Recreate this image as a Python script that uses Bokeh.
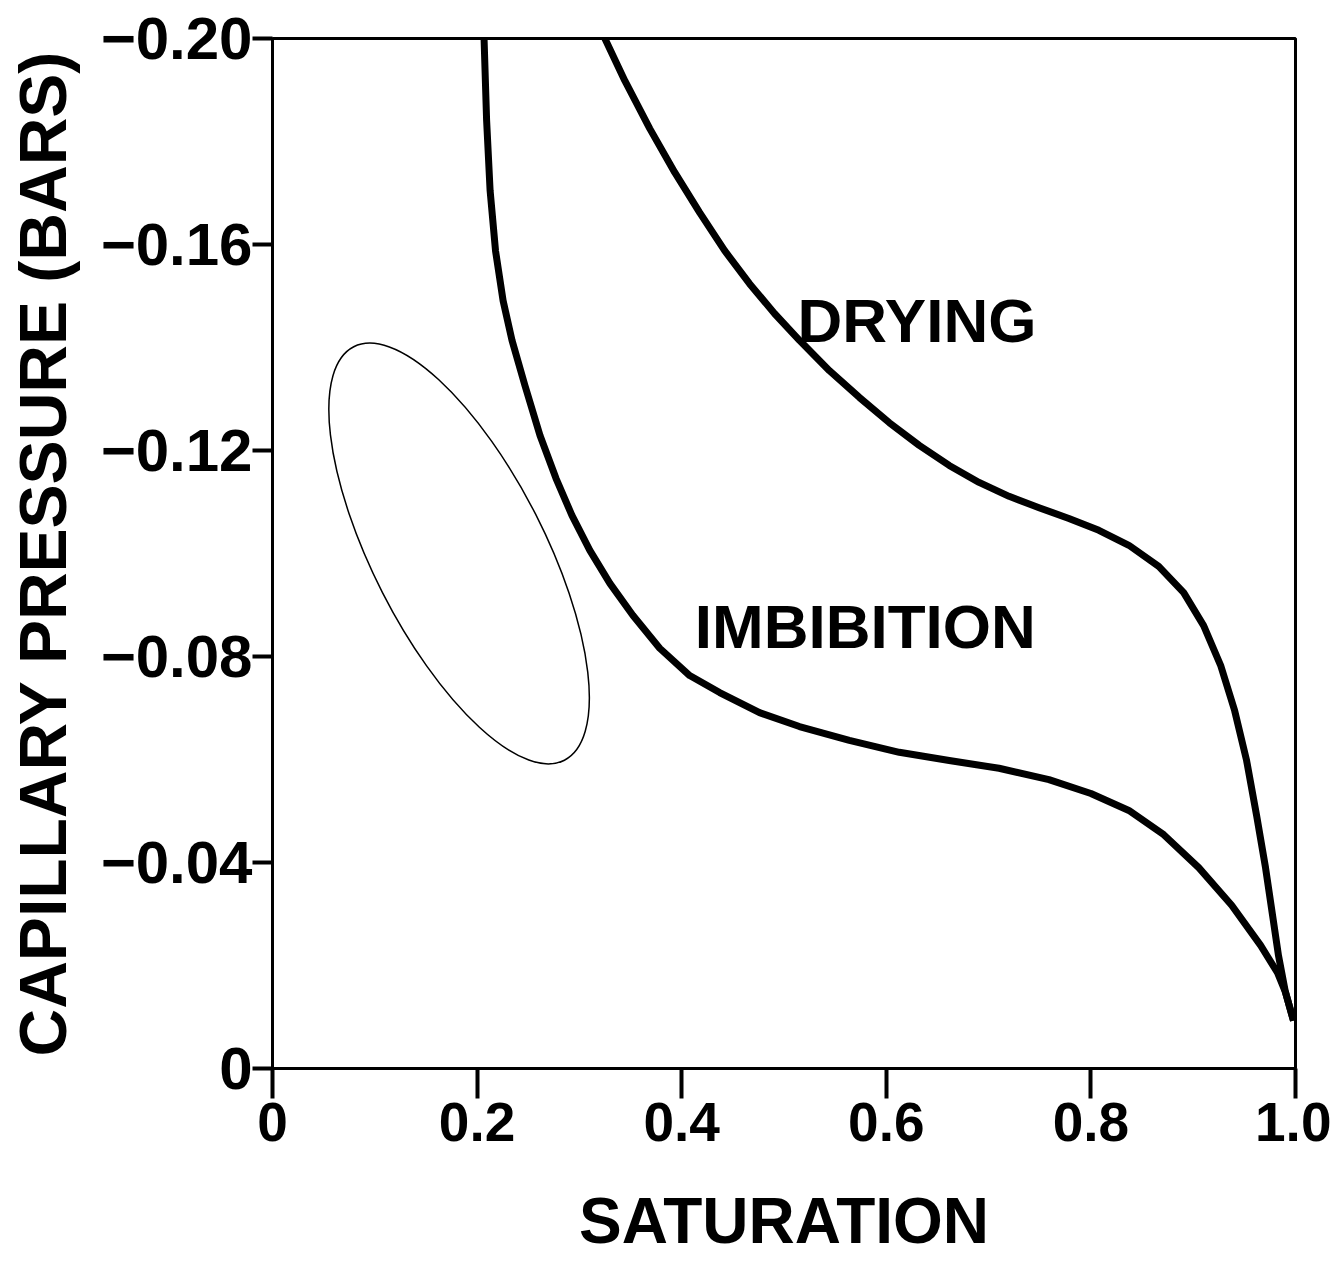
import math
from bokeh.plotting import figure
from bokeh.models import Range1d, FixedTicker, Label
from bokeh.embed import file_html
from bokeh.resources import INLINE

# ---- data ----
imbibition_sat = [0.2068, 0.2093, 0.2127, 0.2180, 0.2254, 0.2341, 0.2468, 0.2615, 0.2771, 0.2927,
                  0.3102, 0.3298, 0.3522, 0.3785, 0.4078, 0.4371, 0.4761, 0.5151, 0.5639, 0.6127,
                  0.6615, 0.7102, 0.7590, 0.8000, 0.8371, 0.8712, 0.9054, 0.9376, 0.9659, 0.9824,
                  0.9902, 0.9980]
imbibition_pc = [-0.2000, -0.1841, -0.1705, -0.1588, -0.1491, -0.1414, -0.1326, -0.1229, -0.1146, -0.1074,
                 -0.1006, -0.0942, -0.0880, -0.0816, -0.0763, -0.0730, -0.0691, -0.0664, -0.0637, -0.0614,
                 -0.0598, -0.0583, -0.0561, -0.0534, -0.0501, -0.0454, -0.0390, -0.0317, -0.0239, -0.0186,
                 -0.0148, -0.0093]

drying_sat = [0.3249, 0.3444, 0.3688, 0.3932, 0.4176, 0.4420, 0.4663, 0.4907, 0.5151, 0.5444,
              0.5737, 0.6029, 0.6322, 0.6615, 0.6907, 0.7200, 0.7493, 0.7785, 0.8078, 0.8371,
              0.8663, 0.8907, 0.9102, 0.9268, 0.9405, 0.9522, 0.9620, 0.9707, 0.9776, 0.9834,
              0.9902, 0.9980]
drying_pc = [-0.2000, -0.1918, -0.1825, -0.1740, -0.1662, -0.1588, -0.1524, -0.1466, -0.1414, -0.1355,
             -0.1303, -0.1254, -0.1210, -0.1171, -0.1138, -0.1111, -0.1089, -0.1068, -0.1045, -0.1016,
             -0.0975, -0.0924, -0.0860, -0.0783, -0.0695, -0.0598, -0.0491, -0.0390, -0.0297, -0.0219,
             -0.0148, -0.0093]

x_ticks = [0, 0.2, 0.4, 0.6, 0.8, 1.0]
x_tick_labels = ["0", "0.2", "0.4", "0.6", "0.8", "1.0"]
y_ticks = [0, -0.04, -0.08, -0.12, -0.16, -0.20]
y_tick_labels = ["0", "\u22120.04", "\u22120.08", "\u22120.12", "\u22120.16", "\u22120.20"]

FONT = "Liberation Sans"

p = figure(width=1331, height=1259, output_backend="svg", toolbar_location=None,
           x_range=Range1d(0, 1.0), y_range=Range1d(0, -0.20),
           min_border_left=272, min_border_right=36, min_border_top=38, min_border_bottom=191)
p.xgrid.visible = False
p.ygrid.visible = False
p.background_fill_color = "white"
p.border_fill_color = "white"
p.outline_line_color = "black"
p.outline_line_width = 3
p.outline_line_alpha = 1.0

# curves
p.line(imbibition_sat, imbibition_pc, line_color="black", line_width=7, line_join="round")
p.line(drying_sat, drying_pc, line_color="black", line_width=7, line_join="round")

# hand-drawn annotation ellipse (approximate)
ell_x, ell_y = 0.1824, -0.1000
p.ellipse(x=[ell_x], y=[ell_y], width=172, height=464, width_units="screen", height_units="screen",
          angle=math.radians(27), fill_alpha=0, line_color="black", line_width=1.5)

# axes
for ax in (p.xaxis[0], p.yaxis[0]):
    ax.axis_line_width = 3
    ax.axis_line_color = "black"
    ax.major_tick_line_width = 4
    ax.major_tick_line_color = "black"
    ax.major_tick_in = 0
    ax.minor_tick_line_color = None
    ax.major_label_text_font = FONT
    ax.major_label_text_font_style = "bold"
    ax.major_label_text_color = "black"
    ax.axis_label_text_font = FONT
    ax.axis_label_text_font_style = "bold"
    ax.axis_label_text_color = "black"

p.xaxis[0].ticker = FixedTicker(ticks=x_ticks)
p.xaxis[0].major_label_overrides = dict(zip(x_ticks, x_tick_labels))
p.xaxis[0].major_label_text_font_size = "55px"
p.xaxis[0].major_tick_out = 30
p.xaxis[0].major_label_standoff = 4
p.xaxis[0].axis_label = "SATURATION"
p.xaxis[0].axis_label_text_font_size = "64px"
p.xaxis[0].axis_label_standoff = 41

p.yaxis[0].ticker = FixedTicker(ticks=y_ticks)
p.yaxis[0].major_label_overrides = dict(zip(y_ticks, y_tick_labels))
p.yaxis[0].major_label_text_font_size = "60px"
p.yaxis[0].major_tick_out = 20
p.yaxis[0].major_label_standoff = 0
p.yaxis[0].axis_label = "CAPILLARY PRESSURE (BARS)"
p.yaxis[0].axis_label_text_font_size = "66px"
p.yaxis[0].axis_label_standoff = 18

# curve labels
p.add_layout(Label(x=0.630, y=-0.1452, text="DRYING", text_font=FONT, text_font_style="bold",
                   text_font_size="62px", text_align="center", text_baseline="middle", text_color="black"))
p.add_layout(Label(x=0.5795, y=-0.0858, text="IMBIBITION", text_font=FONT, text_font_style="bold",
                   text_font_size="62px", text_align="center", text_baseline="middle", text_color="black"))

open("out.html", "w").write(file_html(p, INLINE))
